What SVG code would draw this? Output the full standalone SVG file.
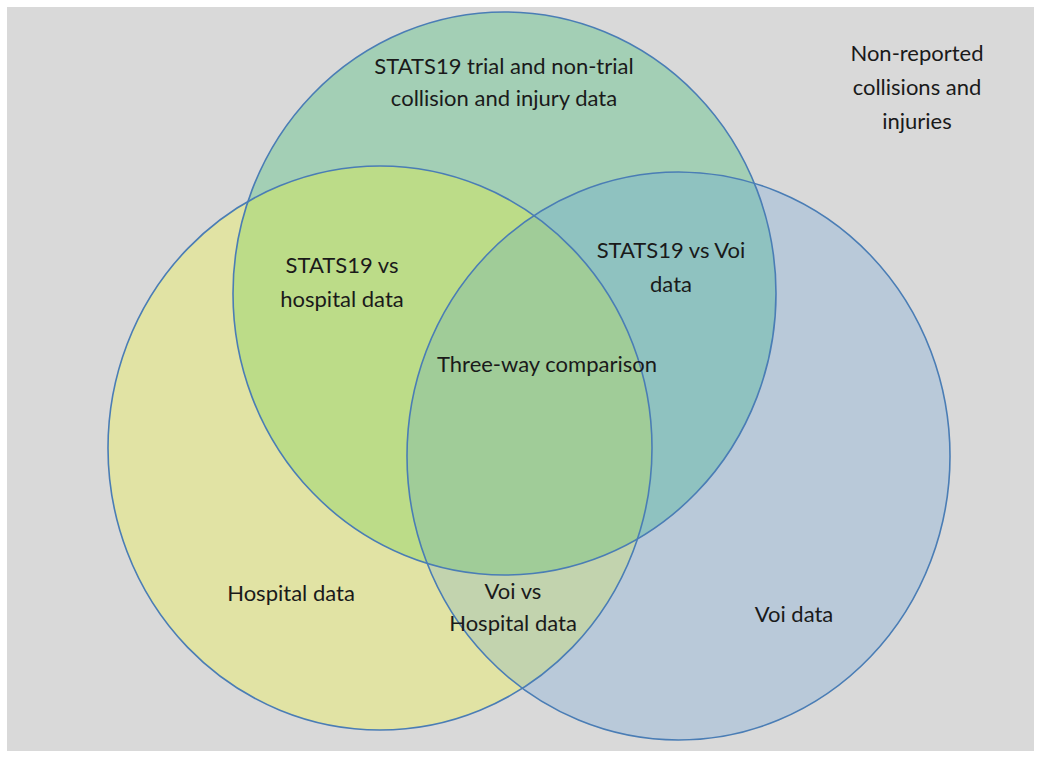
<svg xmlns="http://www.w3.org/2000/svg" width="1041" height="758" viewBox="0 0 1041 758">
<style>
.lbl{font-family:Lato,"Liberation Sans",sans-serif;font-size:22px;fill:#1a1a1a;text-anchor:middle}
.edge{fill:none;stroke:#4a7db5;stroke-width:1.6}
</style>
<defs>
<ellipse id="eG" cx="504.5" cy="293.5" rx="271.5" ry="281.5"/>
<ellipse id="eY" cx="380" cy="448" rx="272" ry="282"/>
<ellipse id="eB" cx="678.5" cy="456" rx="271.5" ry="284"/>
<clipPath id="cG"><use href="#eG"/></clipPath>
<clipPath id="cY"><use href="#eY"/></clipPath>
</defs>
<rect x="0" y="0" width="1041" height="758" fill="#ffffff"/>
<rect x="7" y="7" width="1027" height="744" fill="#d9d9d9"/>
<g id="hospital"><use href="#eY" fill="#e1e3a4"/></g>
<g id="voi"><use href="#eB" fill="#b9c9d9"/></g>
<g id="stats19"><use href="#eG" fill="#a3cfb5"/></g>
<g id="overlaps">
<use href="#eY" fill="#bcdc88" clip-path="url(#cG)"/>
<use href="#eB" fill="#8fc2c0" clip-path="url(#cG)"/>
<use href="#eB" fill="#c2d3ae" clip-path="url(#cY)"/>
<g clip-path="url(#cG)"><use href="#eB" fill="#a0cc98" clip-path="url(#cY)"/></g>
</g>
<g id="outlines">
<use href="#eY" class="edge"/>
<use href="#eB" class="edge"/>
<use href="#eG" class="edge"/>
</g>
<g id="labels">
<text class="lbl" x="504" y="74">STATS19 trial and non-trial</text>
<text class="lbl" x="504" y="106">collision and injury data</text>
<text class="lbl" x="917" y="61">Non-reported</text>
<text class="lbl" x="917" y="95">collisions and</text>
<text class="lbl" x="917" y="129">injuries</text>
<text class="lbl" x="342" y="273">STATS19 vs</text>
<text class="lbl" x="342" y="307">hospital data</text>
<text class="lbl" x="671" y="258">STATS19 vs Voi</text>
<text class="lbl" x="671" y="292">data</text>
<text class="lbl" x="547" y="372">Three-way comparison</text>
<text class="lbl" x="291" y="601">Hospital data</text>
<text class="lbl" x="513" y="599">Voi vs</text>
<text class="lbl" x="513" y="631">Hospital data</text>
<text class="lbl" x="794" y="622">Voi data</text>
</g>
</svg>
